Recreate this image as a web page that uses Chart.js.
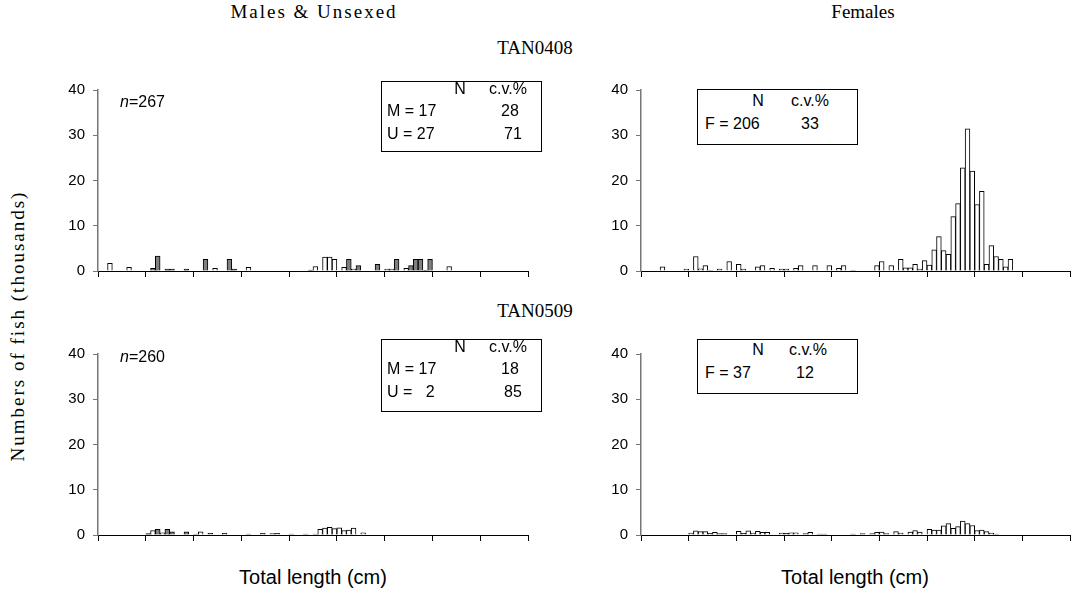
<!DOCTYPE html>
<html>
<head>
<meta charset="utf-8">
<script src="https://cdn.jsdelivr.net/npm/chart.js@4.4.1/dist/chart.umd.min.js"></script>
<style>
  html, body { margin: 0; padding: 0; background: #fff; }
  #page { position: relative; width: 1072px; height: 593px; overflow: hidden; }
  .panel { position: absolute; }
  .t { position: absolute; transform: translate(-50%, -50%); white-space: nowrap; color: #000; }
  .l { position: absolute; transform: translateY(-50%); white-space: nowrap; color: #000; }
  .serif { font-family: "Liberation Serif", "DejaVu Serif", serif; font-size: 19px; }
  .wide { letter-spacing: 2px; }
  .sans { font-family: "Liberation Sans", Arial, sans-serif; font-size: 16px; }
  .axt { font-family: "Liberation Sans", Arial, sans-serif; font-size: 20px; }
  .box { position: absolute; border: 1px solid #000; background: #fff; box-sizing: border-box; }
</style>
</head>
<body>
<div id="page">
  <div class="panel" style="left:30px;top:73px;width:510px;height:215px"><canvas id="tan0408mu" width="510" height="215"></canvas></div>
  <div class="panel" style="left:573px;top:73px;width:499px;height:215px"><canvas id="tan0408f" width="499" height="215"></canvas></div>
  <div class="panel" style="left:30px;top:337px;width:510px;height:215px"><canvas id="tan0509mu" width="510" height="215"></canvas></div>
  <div class="panel" style="left:573px;top:337px;width:499px;height:215px"><canvas id="tan0509f" width="499" height="215"></canvas></div>

  <div class="t serif wide" style="left:314px;top:12px">Males &amp; Unsexed</div>
  <div class="t serif" style="left:863px;top:12px">Females</div>
  <div class="t serif" style="left:535px;top:48px">TAN0408</div>
  <div class="t serif" style="left:535px;top:311px">TAN0509</div>
  <div class="t serif wide" style="left:18px;top:326px;transform:translate(-50%,-50%) rotate(-90deg)">Numbers of fish (thousands)</div>
  <div class="t axt" style="left:313px;top:577px">Total length (cm)</div>
  <div class="t axt" style="left:855px;top:577px">Total length (cm)</div>

  <div class="l sans" style="left:120px;top:102px"><i>n</i>=267</div>
  <div class="l sans" style="left:120px;top:357px"><i>n</i>=260</div>

  <!-- summary boxes -->
  <div class="box" style="left:381px;top:81px;width:161px;height:71px"></div>
  <div class="t sans" style="left:460px;top:89px">N</div>
  <div class="t sans" style="left:508px;top:89px">c.v.%</div>
  <div class="l sans" style="left:387px;top:111px">M = 17</div>
  <div class="t sans" style="left:510px;top:111px">28</div>
  <div class="l sans" style="left:387px;top:134px">U = 27</div>
  <div class="t sans" style="left:513px;top:134px">71</div>

  <div class="box" style="left:697px;top:89px;width:161px;height:56px"></div>
  <div class="t sans" style="left:758px;top:101px">N</div>
  <div class="t sans" style="left:810px;top:101px">c.v.%</div>
  <div class="l sans" style="left:705px;top:124px">F = 206</div>
  <div class="t sans" style="left:810px;top:124px">33</div>

  <div class="box" style="left:381px;top:339px;width:161px;height:73px"></div>
  <div class="t sans" style="left:460px;top:347px">N</div>
  <div class="t sans" style="left:508px;top:347px">c.v.%</div>
  <div class="l sans" style="left:387px;top:369px">M = 17</div>
  <div class="t sans" style="left:510px;top:369px">18</div>
  <div class="l sans" style="left:387px;top:392px">U =&nbsp;&nbsp; 2</div>
  <div class="t sans" style="left:513px;top:392px">85</div>

  <div class="box" style="left:697px;top:339px;width:161px;height:55px"></div>
  <div class="t sans" style="left:758px;top:350px">N</div>
  <div class="t sans" style="left:808px;top:350px">c.v.%</div>
  <div class="l sans" style="left:705px;top:373px">F = 37</div>
  <div class="t sans" style="left:805px;top:373px">12</div>
</div>

<script>
// 90 one-centimetre length classes, ticks every 10 classes
const lengthClasses = Array.from({ length: 90 }, (_, i) => i + 0.5);
const yTicks = [0, 10, 20, 30, 40];

// numbers of fish (thousands) per length class
const males0408 = [
  0, 0, 1.7, 0, 0, 0, 0.8, 0, 0, 0,
  0, 0, 0, 0, 0, 0, 0, 0, 0, 0,
  0, 0, 0, 0, 0.6, 0, 0, 0, 0, 0,
  0, 0.8, 0, 0, 0, 0, 0, 0, 0, 0,
  0, 0, 0, 0, 0, 1.0, 0, 3.1, 3.1, 2.6,
  0, 0.8, 0, 0.4, 0, 0, 0, 0, 0, 0,
  0.4, 0.4, 0, 0, 0.6, 0, 0, 0, 0, 0,
  0, 0, 0, 1.0, 0, 0, 0, 0, 0, 0,
  0, 0, 0, 0, 0, 0, 0, 0, 0, 0
];
const unsexed0408 = [
  0, 0, 0, 0, 0, 0, 0, 0, 0, 0,
  0, 0.6, 3.3, 0, 0.4, 0.4, 0, 0, 0.4, 0,
  0, 0, 2.6, 0, 0, 0, 0, 2.6, 0.4, 0,
  0, 0, 0, 0, 0, 0, 0, 0, 0, 0,
  0, 0, 0, 0, 0.2, 0, 0, 0, 0, 0,
  0, 0, 2.6, 0, 1.2, 0, 0, 0, 1.5, 0,
  0, 0, 2.6, 0, 0, 1.2, 2.6, 2.6, 0.15, 2.6,
  0, 0, 0, 0, 0, 0, 0, 0, 0, 0,
  0, 0, 0, 0, 0, 0, 0, 0, 0, 0
];
const females0408 = [
  0, 0, 0, 0, 0.9, 0, 0, 0, 0, 0.4,
  0, 3.2, 0.5, 1.2, 0.15, 0, 0.4, 0, 2.1, 0,
  1.5, 0.4, 0, 0, 0.9, 1.2, 0, 0.6, 0, 0.4,
  0.4, 0, 0.6, 1.2, 0, 0, 1.2, 0, 0, 1.2,
  0, 0.6, 1.2, 0, 0.15, 0, 0, 0, 0, 1.2,
  2.1, 0, 1.2, 0, 2.6, 0.7, 0.7, 1.5, 0.4, 2.3,
  1.3, 4.7, 7.6, 4.5, 3.7, 12.0, 14.9, 22.8, 31.4, 22.1,
  14.7, 17.6, 1.5, 5.6, 3.2, 2.6, 0.9, 2.6, 0, 0,
  0, 0, 0, 0, 0, 0, 0, 0, 0, 0
];
const males0509 = [
  0, 0, 0, 0, 0, 0, 0, 0, 0, 0,
  0, 1.0, 0, 0.5, 0, 0, 0, 0, 0, 0,
  0.2, 0.7, 0, 0.35, 0, 0, 0.35, 0, 0, 0,
  0, 0.2, 0, 0, 0.35, 0, 0.3, 0.35, 0, 0,
  0.2, 0, 0, 0.2, 0, 0.2, 1.25, 1.55, 1.7, 1.4,
  1.6, 1.0, 1.1, 1.55, 0, 0.5, 0, 0, 0, 0,
  0, 0, 0, 0, 0, 0, 0, 0, 0, 0,
  0, 0, 0, 0, 0, 0, 0, 0, 0, 0,
  0, 0, 0, 0, 0, 0, 0, 0, 0, 0
];
const unsexed0509 = [
  0, 0, 0, 0, 0, 0, 0, 0, 0, 0,
  0.3, 0, 1.25, 0, 1.25, 0.7, 0, 0, 0.7, 0,
  0, 0, 0, 0, 0, 0, 0, 0, 0, 0,
  0, 0, 0, 0, 0, 0, 0, 0, 0, 0,
  0, 0, 0, 0, 0, 0, 0, 0, 0, 0,
  0, 0, 0, 0, 0, 0, 0, 0, 0, 0,
  0, 0, 0, 0, 0, 0, 0, 0, 0, 0,
  0, 0, 0, 0, 0, 0, 0, 0, 0, 0,
  0, 0, 0, 0, 0, 0, 0, 0, 0, 0
];
const females0509 = [
  0, 0, 0, 0, 0, 0, 0, 0, 0, 0,
  0.45, 0.9, 0.75, 0.75, 0.35, 0.6, 0.3, 0.3, 0, 0,
  0.8, 0.35, 0.9, 0.45, 0.8, 0.6, 0.6, 0, 0, 0.45,
  0.35, 0.5, 0.5, 0, 0.3, 0.6, 0, 0.2, 0.2, 0,
  0, 0, 0, 0, 0.2, 0, 0.3, 0, 0.3, 0.6,
  0.65, 0.3, 0, 0.75, 0.45, 0, 0.65, 1.0, 0.65, 0,
  1.25, 1.1, 1.1, 2.0, 2.5, 1.5, 1.85, 3.1, 2.5, 2.1,
  1.0, 1.1, 0.75, 0.45, 0.2, 0, 0, 0, 0, 0,
  0, 0, 0, 0, 0, 0, 0, 0, 0, 0
];

const WHITE = '#ffffff';
const GREY = '#808080';

function series(values, fill) {
  return {
    data: lengthClasses.map((x, i) => ({ x: x, y: values[i] })),
    backgroundColor: fill,
    borderColor: '#000',
    borderWidth: 1,
    barPercentage: 1,
    categoryPercentage: 1
  };
}

function makePanel(id, datasets, padRight) {
  const ctx = document.getElementById(id).getContext('2d');
  return new Chart(ctx, {
    type: 'bar',
    data: { datasets: datasets },
    options: {
      responsive: false,
      animation: false,
      devicePixelRatio: 1,
      layout: { padding: { top: 13, right: padRight, bottom: 0, left: 0 } },
      plugins: { legend: { display: false }, tooltip: { enabled: false } },
      scales: {
        x: {
          type: 'linear',
          min: 0,
          max: 90,
          offset: false,
          stacked: true,
          ticks: { display: false, stepSize: 10 },
          grid: { offset: false, drawOnChartArea: false, drawTicks: true, tickLength: 6, color: '#000' },
          border: { color: '#000', width: 1 },
          afterFit: s => { s.height = 8; }
        },
        y: {
          min: 0,
          max: 40,
          stacked: true,
          afterBuildTicks: s => { s.ticks = yTicks.map(v => ({ value: v })); },
          ticks: {
            color: '#000',
            padding: 8,
            font: { family: '"Liberation Sans", Arial, sans-serif', size: 15 }
          },
          grid: { drawOnChartArea: false, drawTicks: true, tickLength: 5, color: '#777' },
          border: { color: '#777', width: 1.5 },
          afterFit: s => { s.width = 68; }
        }
      }
    }
  });
}

makePanel('tan0408mu', [series(males0408, WHITE), series(unsexed0408, GREY)], 12);
makePanel('tan0408f', [series(females0408, WHITE)], 2);
makePanel('tan0509mu', [series(males0509, WHITE), series(unsexed0509, GREY)], 12);
makePanel('tan0509f', [series(females0509, WHITE)], 2);
</script>
</body>
</html>
